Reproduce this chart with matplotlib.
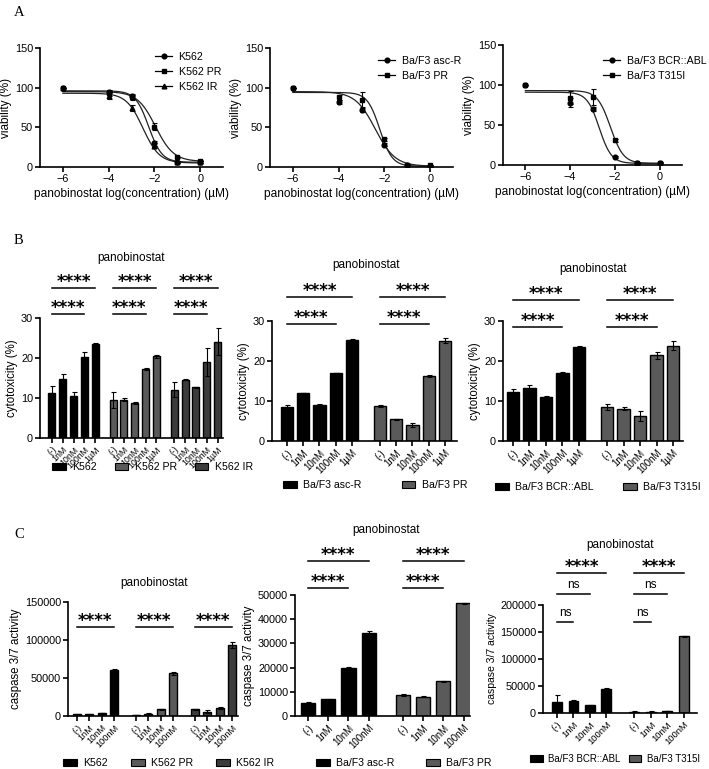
import numpy as np
import matplotlib
matplotlib.use('Agg')
import matplotlib.pyplot as plt
from matplotlib.patches import Patch
from matplotlib.lines import Line2D

plt.rcParams['font.family'] = ['Liberation Sans', 'DejaVu Sans']
plt.rcParams['axes.linewidth'] = 1.2
plt.rcParams['xtick.major.width'] = 1.2
plt.rcParams['ytick.major.width'] = 1.2
plt.rcParams['xtick.major.size'] = 3.5
plt.rcParams['ytick.major.size'] = 3.5
plt.rcParams['xtick.labelsize'] = 7.8
plt.rcParams['ytick.labelsize'] = 7.8

W, H = 709, 769

# ---- panel A: dose response ----
log_conc = [-6, -4, -3, -2, -1, 0]

a1_names = ['K562', 'K562 PR', 'K562 IR']
a1_vals = [[100, 95, 89, 30, 6, 6], [100, 93, 88, 51, 12, 8], [100, 90, 74, 27, 6, 6]]
a1_err = [[0, 2, 3, 3, 1, 1], [0, 3, 3, 4, 1, 1], [0, 4, 4, 3, 1, 1]]
a1_fit = [[96, 6, -2.25, 1.5], [95, 7, -1.95, 1.1], [93, 5, -2.5, 1.2]]  # top, bottom, logIC50, hill

a2_names = ['Ba/F3 asc-R', 'Ba/F3 PR']
a2_vals = [[100, 82, 72, 28, 2, 1], [100, 88, 85, 35, 3, 2]]
a2_err = [[0, 2, 3, 2, 1, 1], [0, 3, 9, 2, 1, 1]]
a2_fit = [[95, 1, -2.4, 1.0], [94, 1, -2.2, 1.6]]

a3_names = ['Ba/F3 BCR::ABL', 'Ba/F3 T315I']
a3_vals = [[100, 78, 70, 10, 2, 2], [100, 84, 85, 31, 2, 3]]
a3_err = [[0, 6, 3, 1, 1, 1], [0, 8, 10, 2, 1, 1]]
a3_fit = [[91, 2, -2.7, 1.6], [93, 2, -2.2, 1.5]]

# ---- panel B: cytotoxicity ----
b_doses = ['(-)', '1nM', '10nM', '100nM', '1µM']
b1_names = ['K562', 'K562 PR', 'K562 IR']
b1_vals = [[11.3, 14.8, 10.6, 20.3, 23.6], [9.5, 9.6, 8.7, 17.2, 20.4], [12.1, 14.6, 12.7, 19.0, 24.1]]
b1_err = [[1.7, 1.2, 1.0, 1.2, 0.2], [2.0, 0.3, 0.2, 0.3, 0.3], [1.8, 0.2, 0.1, 3.6, 3.3]]

b2_names = ['Ba/F3 asc-R', 'Ba/F3 PR']
b2_vals = [[8.4, 12.0, 9.1, 17.0, 25.3], [8.8, 5.4, 3.9, 16.3, 25.1]]
b2_err = [[0.5, 0.1, 0.1, 0.1, 0.2], [0.2, 0.2, 0.5, 0.2, 0.7]]

b3_names = ['Ba/F3 BCR::ABL', 'Ba/F3 T315I']
b3_vals = [[12.2, 13.3, 11.1, 17.0, 23.5], [8.5, 8.1, 6.3, 21.4, 23.8]]
b3_err = [[0.8, 0.8, 0.1, 0.2, 0.2], [0.7, 0.3, 1.3, 0.8, 1.1]]

# ---- panel C: caspase 3/7 ----
c_doses = ['(-)', '1nM', '10nM', '100nM']
c1_names = ['K562', 'K562 PR', 'K562 IR']
c1_vals = [[2000, 2000, 4000, 61000], [1500, 3000, 9000, 56000], [9000, 5500, 11000, 94000]]
c1_err = [[300, 300, 500, 800], [200, 500, 800, 1500], [800, 2000, 1500, 4000]]

c2_names = ['Ba/F3 asc-R', 'Ba/F3 PR']
c2_vals = [[5500, 7000, 20000, 34500], [8700, 8000, 14300, 46500]]
c2_err = [[200, 200, 300, 500], [400, 300, 300, 400]]

c3_names = ['Ba/F3 BCR::ABL', 'Ba/F3 T315I']
c3_vals = [[21000, 22000, 14000, 45000], [2500, 2500, 3500, 142000]]
c3_err = [[13000, 1500, 1000, 2000], [300, 300, 500, 1500]]

colors3 = ['#000000', '#5a5a5a', '#3c3c3c']
colors2 = ['#000000', '#5a5a5a']
markers = ['o', 's', '^']

fig = plt.figure(figsize=(W / 100, H / 100), dpi=100)


def box(x0, y0, x1, y1):
    return [x0 / W, 1 - y1 / H, (x1 - x0) / W, (y1 - y0) / H]


def style(ax):
    ax.spines['top'].set_visible(False)
    ax.spines['right'].set_visible(False)
    ax.tick_params(direction='out', pad=1.5)


def curve(x, p):
    top, bottom, ic50, hill = p
    return bottom + (top - bottom) / (1 + 10 ** ((x - ic50) * hill))


def dose_panel(rect, names, vals, errs, fits, leg_xy):
    ax = fig.add_axes(box(*rect))
    style(ax)
    xs = np.linspace(-6, 0, 200)
    handles = []
    for i, name in enumerate(names):
        ax.plot(xs, curve(xs, fits[i]), color='#222222', lw=0.9)
        ax.errorbar(log_conc, vals[i], yerr=errs[i], fmt=markers[i], ms=3.4,
                    color='black', ecolor='black', elinewidth=0.8, capsize=1.8, capthick=0.8)
        handles.append(Line2D([], [], color='black', lw=0.9, marker=markers[i], ms=3.4))
    ax.set_xlim(-7, 1)
    ax.set_ylim(0, 150)
    ax.set_xticks([-6, -4, -2, 0])
    ax.set_yticks([0, 50, 100, 150])
    ax.set_ylabel('viability (%)', fontsize=8.5, labelpad=2)
    ax.set_xlabel('panobinostat log(concentration) (µM)', fontsize=8.6, labelpad=3)
    fig.legend(handles, names, loc='upper left', bbox_to_anchor=(leg_xy[0] / W, 1 - leg_xy[1] / H),
               frameon=False, fontsize=7.7, handlelength=1.6, handletextpad=0.6, labelspacing=0.45,
               borderaxespad=0, borderpad=0)
    return ax


def bar_panel(rect, names, vals, errs, colors, doses, gap, width, xlim, ylim, yticks,
              ylabel, tick_fs, leg_xy, colsp, leg_fs=7.6):
    ax = fig.add_axes(box(*rect))
    style(ax)
    pos_all = []
    lab_all = []
    for g, name in enumerate(names):
        pos = np.arange(len(doses)) + g * gap
        ax.bar(pos, vals[g], width=width, color=colors[g], edgecolor='black', lw=1.0, zorder=2)
        ax.errorbar(pos, vals[g], yerr=errs[g], fmt='none', ecolor='black', elinewidth=0.8,
                    capsize=1.8, capthick=0.8, zorder=3)
        pos_all += list(pos)
        lab_all += doses
    ax.set_xticks(pos_all)
    ax.set_xticklabels(lab_all, rotation=45, ha='right', rotation_mode='anchor', fontsize=tick_fs)
    ax.set_xlim(*xlim)
    ax.set_ylim(*ylim)
    ax.set_yticks(yticks)
    ax.set_ylabel(ylabel, fontsize=8.3, labelpad=2)
    handles = [Patch(facecolor=c, edgecolor='black', lw=0.8) for c in colors[:len(names)]]
    fig.legend(handles, names, loc='center left', bbox_to_anchor=(leg_xy[0] / W, 1 - leg_xy[1] / H),
               ncol=len(names), frameon=False, fontsize=leg_fs, handlelength=1.3, handleheight=0.6,
               handletextpad=0.6, columnspacing=colsp, borderaxespad=0, borderpad=0)
    return ax


def sig(ax, x0, x1, y, text, bold=True):
    ax.plot([x0, x1], [y, y], color='black', lw=1.1, clip_on=False)
    if bold:
        ax.annotate(text, xy=((x0 + x1) / 2, y), xytext=(0, 0.6), textcoords='offset points',
                    ha='center', va='baseline', fontsize=12, fontweight='bold',
                    family='DejaVu Sans', annotation_clip=False)
    else:
        ax.annotate(text, xy=((x0 + x1) / 2, y), xytext=(0, 4.0), textcoords='offset points',
                    ha='center', va='baseline', fontsize=8.5, annotation_clip=False)


def title(ax, x, y):
    ax.text(x, y, 'panobinostat', ha='center', va='center', fontsize=8.5, clip_on=False)


# panel letters
for lab, (x, y) in zip(['A', 'B', 'C'], [(14, 13), (14, 241), (14, 534)]):
    fig.text(x / W, 1 - y / H, lab, family='Liberation Serif', fontsize=10.5, va='center')

# ---- A ----
dose_panel((40, 48, 223, 167), a1_names, a1_vals, a1_err, a1_fit, (155, 52))
dose_panel((270, 48, 453, 167), a2_names, a2_vals, a2_err, a2_fit, (378, 56))
dose_panel((503, 45, 682, 165), a3_names, a3_vals, a3_err, a3_fit, (603, 56))

# ---- B ----
axb1 = bar_panel((40, 318, 223, 438), b1_names, b1_vals, b1_err, colors3, b_doses, 5.65, 0.65,
                 (-1.1, 15.8), (0, 30), [0, 10, 20, 30], 'cytotoxicity (%)', 6.3, (52, 467), 1.7)
for g in range(3):
    s = g * 5.65
    sig(axb1, s, s + 4, 37.5, '****')
    sig(axb1, s, s + 3, 31.0, '****')
title(axb1, 7.35, 45.0)

axb2 = bar_panel((272, 321, 457, 441), b2_names, b2_vals, b2_err, colors2, b_doses, 5.72, 0.75,
                 (-0.92, 10.46), (0, 30), [0, 10, 20, 30], 'cytotoxicity (%)', 7.0, (283, 485), 3.8)
for g in range(2):
    s = g * 5.72
    sig(axb2, s, s + 4, 36.0, '****')
    sig(axb2, s, s + 3, 29.25, '****')
title(axb2, 4.86, 44.0)

axb3 = bar_panel((503, 321, 683, 441), b3_names, b3_vals, b3_err, colors2, b_doses, 5.7, 0.75,
                 (-0.6, 10.3), (0, 30), [0, 10, 20, 30], 'cytotoxicity (%)', 7.0, (495, 487), 2.8)
for g in range(2):
    s = g * 5.7
    sig(axb3, s, s + 4, 35.25, '****')
    sig(axb3, s, s + 3, 28.5, '****')
title(axb3, 4.85, 43.0)

# ---- C ----
axc1 = bar_panel((68, 602, 238, 716), c1_names, c1_vals, c1_err, colors3, c_doses, 4.8, 0.65,
                 (-0.73, 13.1), (0, 150000), [0, 50000, 100000, 150000], 'caspase 3/7 activity',
                 6.6, (63, 763), 2.2)
for g in range(3):
    s = g * 4.8
    sig(axc1, s, s + 3, 117000, '****')
title(axc1, 6.3, 175000)

axc2 = bar_panel((295, 595, 470, 716), c2_names, c2_vals, c2_err, colors2, c_doses, 4.68, 0.7,
                 (-0.64, 8.0), (0, 50000), [0, 10000, 20000, 30000, 40000, 50000],
                 'caspase 3/7 activity', 7.0, (316, 763), 3.0)
for g in range(2):
    s = g * 4.68
    sig(axc2, s, s + 3, 64000, '****')
    sig(axc2, s, s + 2, 52900, '****')
title(axc2, 3.84, 76900)

axc3 = bar_panel((543, 605, 697, 713), c3_names, c3_vals, c3_err, colors2, c_doses, 4.7, 0.6,
                 (-0.85, 8.5), (0, 200000), [0, 50000, 100000, 150000, 200000],
                 'caspase 3/7 activity', 6.8, (530, 759), 0.8, leg_fs=7.0)
axc3.yaxis.label.set_fontsize(7.5)
for g in range(2):
    s = g * 4.7
    sig(axc3, s, s + 3, 259300, '****')
    sig(axc3, s, s + 2, 220400, 'ns', bold=False)
    sig(axc3, s, s + 1, 168500, 'ns', bold=False)
title(axc3, 3.85, 311000)

fig.savefig('out.png', dpi=100)
